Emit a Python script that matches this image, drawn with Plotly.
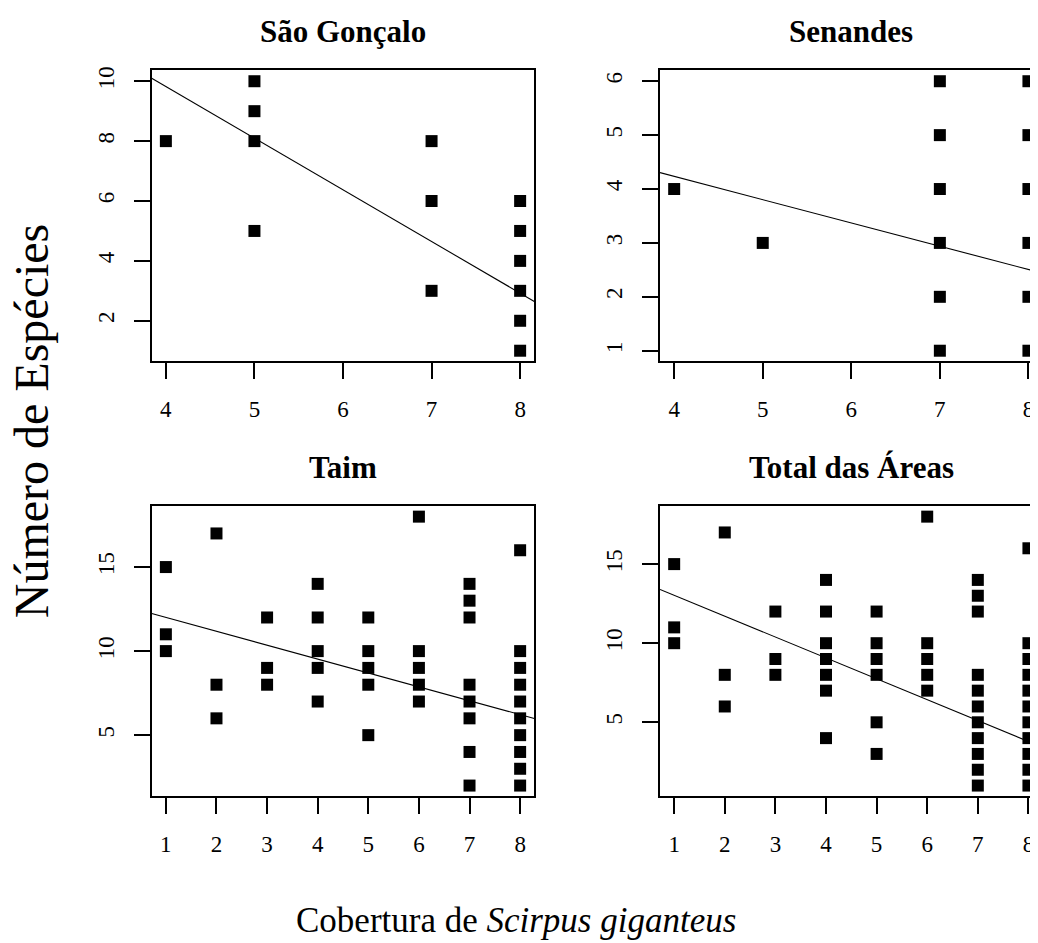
import plotly.graph_objects as go

# ---------------- data ----------------
titles = ["São Gonçalo", "Senandes", "Taim", "Total das Áreas"]

sg_x = [4, 5, 5, 5, 5, 7, 7, 7, 8, 8, 8, 8, 8, 8]
sg_y = [8, 10, 9, 8, 5, 8, 6, 3, 6, 5, 4, 3, 2, 1]

se_x = [4, 5, 7, 7, 7, 7, 7, 7, 8, 8, 8, 8, 8, 8]
se_y = [4, 3, 6, 5, 4, 3, 2, 1, 6, 5, 4, 3, 2, 1]

ta_x = [1, 1, 1,
        2, 2, 2,
        3, 3, 3,
        4, 4, 4, 4, 4,
        5, 5, 5, 5, 5,
        6, 6, 6, 6, 6,
        7, 7, 7, 7, 7, 7, 7, 7,
        8, 8, 8, 8, 8, 8, 8, 8, 8, 8]
ta_y = [15, 11, 10,
        17, 8, 6,
        12, 9, 8,
        14, 12, 10, 9, 7,
        12, 10, 9, 8, 5,
        18, 10, 9, 8, 7,
        14, 13, 12, 8, 7, 6, 4, 2,
        16, 10, 9, 8, 7, 6, 5, 4, 3, 2]

to_x = [1, 1, 1,
        2, 2, 2,
        3, 3, 3,
        4, 4, 4, 4, 4, 4, 4,
        5, 5, 5, 5, 5, 5,
        6, 6, 6, 6, 6,
        7, 7, 7, 7, 7, 7, 7, 7, 7, 7, 7,
        8, 8, 8, 8, 8, 8, 8, 8, 8, 8, 8]
to_y = [15, 11, 10,
        17, 8, 6,
        12, 9, 8,
        14, 12, 10, 9, 8, 7, 4,
        12, 10, 9, 8, 5, 3,
        18, 10, 9, 8, 7,
        14, 13, 12, 8, 7, 6, 5, 4, 3, 2, 1,
        16, 10, 9, 8, 7, 6, 5, 4, 3, 2, 1]

# fitted regression lines (intercept, slope)
fit_intercept = [16.73, 5.963, 12.83, 14.35]
fit_slope = [-1.726, -0.432, -0.826, -1.320]

x_ticks = [[4, 5, 6, 7, 8], [4, 5, 6, 7, 8],
           [1, 2, 3, 4, 5, 6, 7, 8], [1, 2, 3, 4, 5, 6, 7, 8]]
y_ticks = [[2, 4, 6, 8, 10], [1, 2, 3, 4, 5, 6], [5, 10, 15], [5, 10, 15]]

y_label = "Número de Espécies"
x_label = "Cobertura de <i>Scirpus giganteus</i>"

# ---------------- layout geometry ----------------
OFF = 8                      # page body margin
W, H = 1038 - OFF, 943 - OFF
FONT = "Liberation Serif"

def rrange(vals):
    lo, hi = min(vals), max(vals)
    pad = (hi - lo) * 0.04
    return [lo - pad, hi + pad]

xs = [sg_x, se_x, ta_x, to_x]
ys = [sg_y, se_y, ta_y, to_y]

# frame pixels on the page (left, right, top, bottom); right panels cut by page edge
frames_page = [(151.7, 534.3, 66.7, 359.0),
               (660.0, 1042.6, 66.7, 359.0),
               (151.7, 534.3, 504.0, 795.7),
               (660.0, 1042.6, 504.0, 795.7)]

def px(x):
    return (x - OFF) / W

def py(y):
    return 1 - (y - OFF) / H

fig = go.Figure()
for i in range(4):
    L, R, T, B = [v - OFF for v in frames_page[i]]
    xr = rrange(xs[i])
    yr = rrange(ys[i])
    Rv = min(R, W)
    xr_vis = [xr[0], xr[0] + (xr[1] - xr[0]) * (Rv - L) / (R - L)]
    n = "" if i == 0 else str(i + 1)
    clipped = R > W
    fig.add_trace(go.Scatter(
        x=xs[i], y=ys[i], mode="markers",
        marker=dict(symbol="square", size=12, color="black", line=dict(width=0)),
        xaxis="x" + n, yaxis="y" + n, showlegend=False, cliponaxis=False))
    lx = [xr[0], xr[1]]
    ly = [fit_intercept[i] + fit_slope[i] * v for v in lx]
    fig.add_trace(go.Scatter(
        x=lx, y=ly, mode="lines", line=dict(color="black", width=1.1),
        xaxis="x" + n, yaxis="y" + n, showlegend=False))
    axcommon = dict(showgrid=False, zeroline=False, showline=True,
                    linecolor="black", linewidth=1.6, ticks="outside",
                    ticklen=16, tickwidth=1.6, tickcolor="black",
                    tickfont=dict(family=FONT, size=23, color="black"))
    fig.layout["xaxis" + n] = dict(
        domain=[L / W, Rv / W], range=xr_vis, anchor="y" + n,
        tickvals=x_ticks[i], mirror=True, ticklabelstandoff=10, **axcommon)
    fig.layout["yaxis" + n] = dict(
        domain=[1 - B / H, 1 - T / H], range=yr, anchor="x" + n,
        tickvals=y_ticks[i], tickangle=-90, mirror=not clipped,
        ticklabelstandoff=11, **axcommon)
    fig.add_annotation(
        text="<b>" + titles[i] + "</b>", xref="paper", yref="paper",
        x=px((frames_page[i][0] + frames_page[i][1]) / 2),
        y=py(frames_page[i][2] - 39), showarrow=False,
        xanchor="center", yanchor="middle",
        font=dict(family=FONT, size=31, color="black"))

fig.add_annotation(text=y_label, xref="paper", yref="paper",
                   x=px(31.5), y=py(418.5), textangle=-90,
                   showarrow=False, xanchor="center", yanchor="middle",
                   font=dict(family=FONT, size=48, color="black"))
fig.add_annotation(text=x_label, xref="paper", yref="paper",
                   x=px(516), y=py(920), showarrow=False,
                   xanchor="center", yanchor="middle",
                   font=dict(family=FONT, size=35, color="black"))

fig.update_layout(width=W, height=H, margin=dict(l=0, r=0, t=0, b=0),
                  paper_bgcolor="white", plot_bgcolor="white")
fig.write_html("out.html")
